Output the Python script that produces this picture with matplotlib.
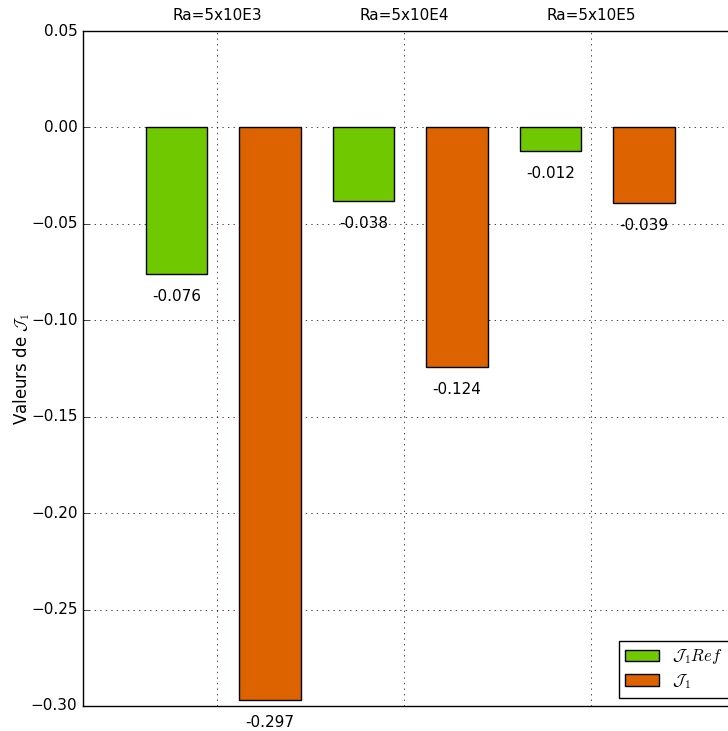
import numpy as np
import matplotlib
matplotlib.use('Agg')
import matplotlib.pyplot as plt

plt.style.use('classic')
plt.rcParams['mathtext.fontset'] = 'cm'
plt.rcParams['font.size'] = 11

# data
groups = ['Ra=5x10E3', 'Ra=5x10E4', 'Ra=5x10E5']
j1_ref = [-0.076, -0.038, -0.012]
j1 = [-0.297, -0.124, -0.039]

ind = np.arange(len(groups))
width = 0.33

fig = plt.figure(figsize=(7.28, 7.31), dpi=100, facecolor='white')
ax = fig.add_axes([83/728, 25/731, 654.5/728, 675/731])

b1 = ax.bar(ind, j1_ref, width, color='#70c800', edgecolor='k', align='center', label=r'$\mathcal{J}_1 Ref$')
b2 = ax.bar(ind + 0.5, j1, width, color='#dd6200', edgecolor='k', align='center', label=r'$\mathcal{J}_1$')

for bars, vals in ((b1, j1_ref), (b2, j1)):
    for rect, v in zip(bars, vals):
        ax.annotate('%.3f' % v, xy=(rect.get_x() + rect.get_width()/2, v),
                    xytext=(0, -11), textcoords='offset points',
                    ha='center', va='top', fontsize=11, annotation_clip=False)

def yfmt(v, pos):
    s = '%.2f' % (round(v, 2) + 0.0)
    if s == '-0.00':
        s = '0.00'
    return s.replace('-', '\u2212')

ax.set_xlim(-0.5, 3.0)
ax.set_ylim(-0.30, 0.05)
ax.set_yticks(np.round(np.arange(-0.30, 0.051, 0.05), 2))
ax.yaxis.set_major_formatter(matplotlib.ticker.FuncFormatter(yfmt))
ax.xaxis.tick_top()
ax.set_xticks(ind + 0.2166)
ax.set_xticklabels(groups)
ax.tick_params(axis='x', length=0, pad=6)
ax.tick_params(axis='y', direction='in', right=False)
ax.grid(True, color='k', linestyle=':')
ax.set_axisbelow(True)
ax.set_ylabel(r'Valeurs de $\mathcal{J}_1$', fontsize=12, labelpad=-1)

ax.legend(loc='lower right', fontsize=12, handlelength=2.0, labelspacing=0.35, borderpad=0.4)

fig.savefig('out.png', dpi=100, facecolor='white')
